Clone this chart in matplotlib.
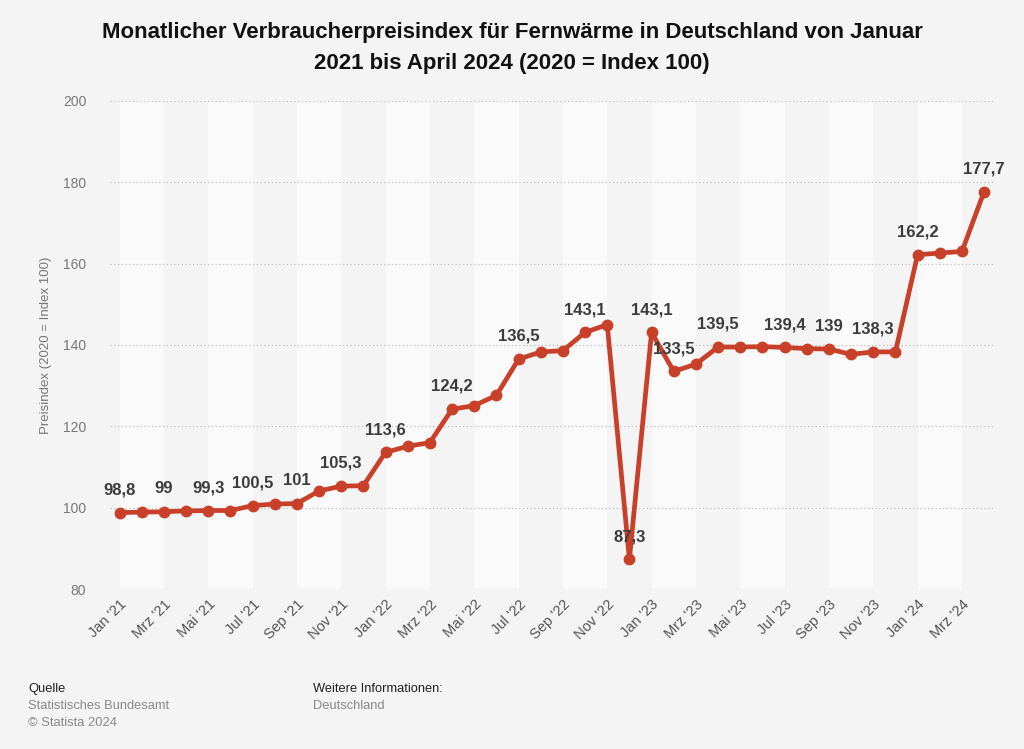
import matplotlib.pyplot as plt

plt.rcParams['font.family'] = ['Liberation Sans', 'DejaVu Sans']

# monthly values, Jan 2021 .. Apr 2024
months = ["Jan", "Feb", "Mrz", "Apr", "Mai", "Jun", "Jul", "Aug", "Sep", "Okt", "Nov", "Dez"]
years = ["21", "22", "23", "24"]
values = [98.8, 98.9, 99.0, 99.2, 99.3, 99.3, 100.5, 100.9, 101.0, 104.1, 105.3, 105.4,
          113.6, 115.1, 116.0, 124.2, 125.1, 127.6, 136.5, 138.3, 138.6, 143.1, 145.0, 87.3,
          143.1, 133.5, 135.3, 139.5, 139.5, 139.6, 139.4, 139.1, 139.0, 137.7, 138.3, 138.3,
          162.2, 162.6, 163.0, 177.7]
# points that carry a value label
labelled = [0, 2, 4, 6, 8, 10, 12, 15, 18, 21, 23, 24, 25, 27, 30, 32, 34, 36, 39]

categories = [f"{months[i % 12]} '{years[i // 12]}" for i in range(len(values))]
x = list(range(len(values)))

fig = plt.figure(figsize=(10.24, 7.49), dpi=100)
fig.patch.set_facecolor("#f4f4f4")
ax = fig.add_axes([0.1074, 0.2136, 0.8623, 0.6516])
ax.set_facecolor("#f4f4f4")

# alternating background bands
for i in range(0, len(values), 4):
    ax.axvspan(i, i + 2, color="#fafafa", zorder=0, lw=0)

ax.set_ylim(80, 200)
ax.set_xlim(-0.43, 39.4)
ax.set_yticks(range(80, 201, 20))
ax.grid(axis='y', linestyle=(0, (1, 2)), color="#bdbdbd", linewidth=0.9)
ax.set_axisbelow(True)
for s in ax.spines.values():
    s.set_visible(False)

ax.plot(x, values, color="#c9402a", linewidth=3.4, marker='o', markersize=7.5,
        solid_joinstyle='round', zorder=3)

for i in labelled:
    v = values[i]
    txt = f"{v:g}".replace(".", ",")
    ax.annotate(txt, (i, v), xytext=(0, 11), textcoords="offset points",
                ha='center', va='bottom', fontsize=12, fontweight='bold',
                color="#3c3c3c", zorder=4)

ax.set_xticks(x[::2])
ax.set_xticklabels(categories[::2], rotation=45, ha='right', rotation_mode='anchor',
                   fontsize=10.5, color="#555555")
ax.tick_params(axis='x', length=0, pad=6)
ax.tick_params(axis='y', length=0, pad=17, labelsize=10, labelcolor="#777777")
ax.set_ylabel("Preisindex (2020 = Index 100)", fontsize=9.5, color="#777777", labelpad=8)

fig.text(0.5, 0.970, "Monatlicher Verbraucherpreisindex für Fernwärme in Deutschland von Januar\n"
         "2021 bis April 2024 (2020 = Index 100)", ha='center', va='top',
         fontsize=16, fontweight='bold', color="#111111", linespacing=1.62)

fig.text(28 / 1024, 1 - 689 / 749, "Quelle", fontsize=9.3, color="#222222", va='center')
fig.text(28 / 1024, 1 - 706 / 749, "Statistisches Bundesamt", fontsize=9.3, color="#888888", va='center')
fig.text(28 / 1024, 1 - 723 / 749, "© Statista 2024", fontsize=9.3, color="#888888", va='center')
fig.text(313 / 1024, 1 - 689 / 749, "Weitere Informationen:", fontsize=9.3, color="#222222", va='center')
fig.text(313 / 1024, 1 - 706 / 749, "Deutschland", fontsize=9.3, color="#888888", va='center')

fig.savefig("out.png", dpi=100, facecolor=fig.get_facecolor())
